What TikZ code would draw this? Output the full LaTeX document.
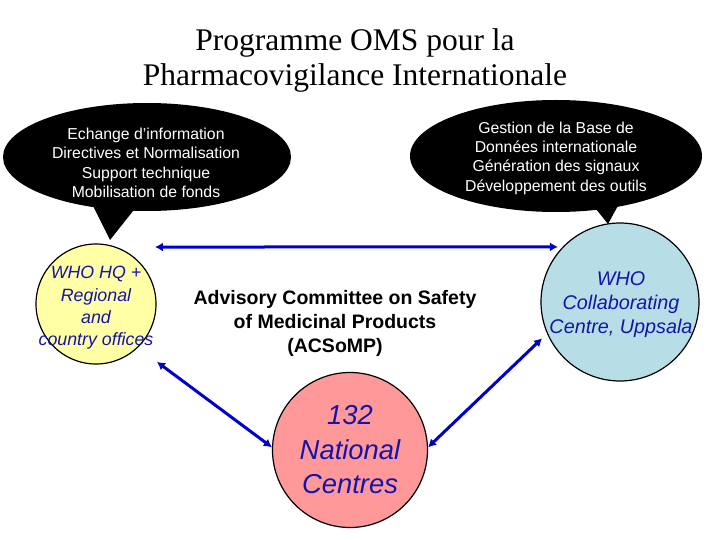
\documentclass[tikz,border=0pt]{standalone}
\usepackage{fontspec}
\setmainfont{Liberation Serif}
\setsansfont{Liberation Sans}
\usetikzlibrary{
    positioning,
    arrows.meta,
    shapes.geometric,
    calc
}
\definecolor{LinkBlue}{RGB}{0,0,204}
\definecolor{TextBlue}{RGB}{20,20,170}
\definecolor{PaleYellow}{RGB}{255,255,165}
\definecolor{PaleCyan}{RGB}{183,222,230}
\definecolor{SoftPink}{RGB}{255,153,153}

\begin{document}
\begin{tikzpicture}[
    x=1pt, y=-1pt,
    bubble/.style={ellipse, fill=black, inner sep=0pt},
    bubbletext/.style={align=center, text=white, font=\sffamily\fontsize{15.8}{19.3}\selectfont},
    actor/.style={circle, draw, line width=1.2pt, inner sep=0pt},
    actortext/.style={align=center, text=TextBlue, font=\sffamily\itshape},
    link/.style={draw=LinkBlue, line width=3pt, {Latex[length=8pt,width=9pt]}-{Latex[length=8pt,width=9pt]}},
]
\useasboundingbox (0,0) rectangle (720,540);

\node[font=\fontsize{31.5}{35}\selectfont, align=center] (title) at (355,60) {Programme OMS pour la\\Pharmacovigilance Internationale};

% bulles
\node[bubble, minimum width=288pt, minimum height=108pt] (lbub) at (147,157) {};
\fill (92,204) -- (110,240) -- (137,206) -- cycle;
\node[bubbletext] at (146,163) {Echange d'information\\Directives et Normalisation\\Support technique\\Mobilisation de fonds};
\node[bubble, minimum width=292pt, minimum height=112pt] (rbub) at (556,156) {};
\fill (592,204) -- (608,224) -- (620,202) -- cycle;
\node[bubbletext] at (556,158) {Gestion de la Base de\\Données internationale\\Génération des signaux\\Développement des outils};

% acteurs
\node[actor, fill=PaleYellow, minimum size=120pt] (hq) at (96,304) {};
\node[actortext, font=\sffamily\itshape\fontsize{17.8}{22.3}\selectfont] at (96,308) {WHO HQ +\\Regional\\and\\country offices};
\node[actor, fill=PaleCyan, minimum size=158pt] (cc) at (620,302) {};
\node[actortext, font=\sffamily\itshape\fontsize{19.8}{24}\selectfont] at (621,305) {WHO\\Collaborating\\Centre, Uppsala};
\node[actor, fill=SoftPink, minimum size=155pt] (nc) at (350,450) {};
\node[actortext, font=\sffamily\itshape\fontsize{27.4}{34.5}\selectfont] at (nc) {132\\National\\Centres};

\node[align=center, font=\sffamily\bfseries\fontsize{19.5}{24}\selectfont] (acsomp) at (335,323) {Advisory Committee on Safety\\of Medicinal Products\\(ACSoMP)};

% liens
\draw[link] ($(hq.center)+(44:82pt)$) -- ($(cc.center)+(138.4:83pt)$);
\draw[link] ($(hq.center)+(-43.5:84pt)$) -- (nc.178);
\draw[link] (nc.2) -- ($(cc.center)+(205:86pt)$);
\end{tikzpicture}
\end{document}
